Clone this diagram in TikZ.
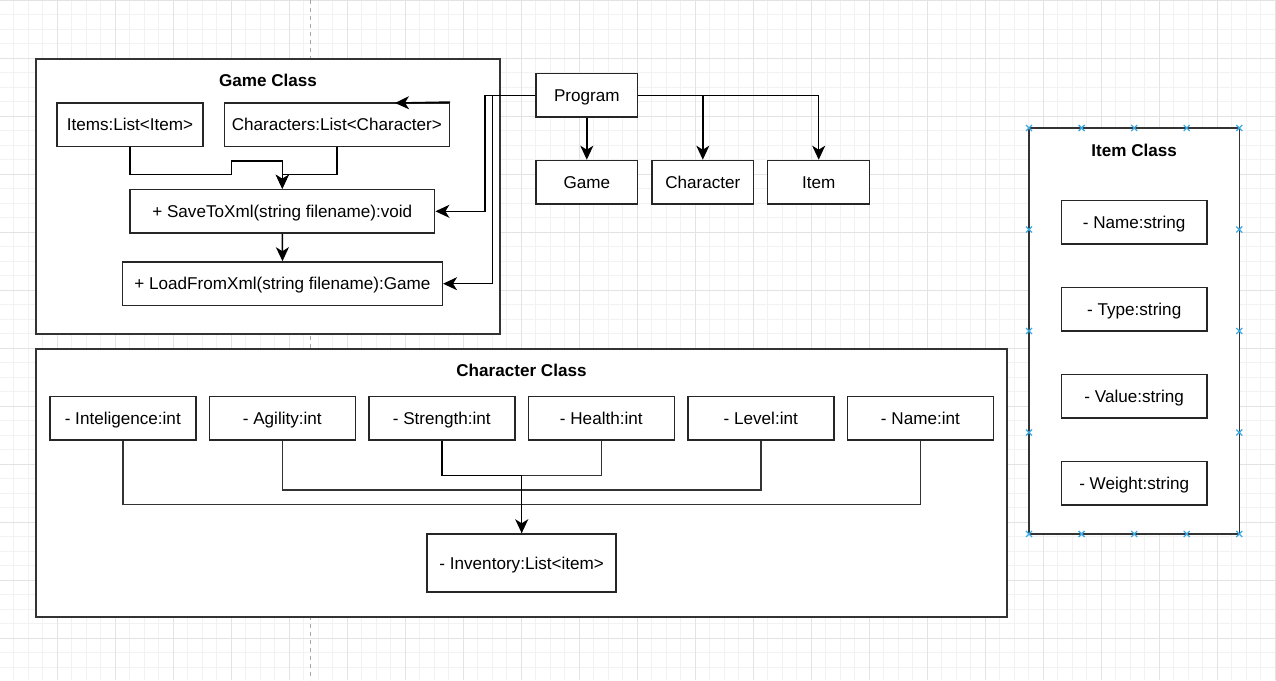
\documentclass[tikz,border=0pt]{standalone}
\usepackage{fontspec}
\setmainfont{Liberation Sans}
\usetikzlibrary{arrows.meta}
\definecolor{handle}{HTML}{3AA9E4}

\begin{document}
\begin{tikzpicture}[x=1pt, y=-1pt,
  font=\fontsize{17.1}{20}\selectfont,
  frame/.style={draw=black!80, line width=1.5, fill=white, inner sep=0},
  box/.style={draw=black!85, line width=1.5, fill=white, inner sep=0, minimum height=43.5,
    text height=12.2pt, text depth=0pt},
  title/.style={font=\fontsize{17.1}{20}\selectfont\bfseries, text height=12.2pt, text depth=0pt},
  link/.style={draw=black!80, line width=1.4},
  arrow/.style={-{Stealth[length=14pt, width=13pt, inset=4pt]}, draw=black, line width=1.4}]
  \useasboundingbox (0,0) rectangle (1276,680);

  % grid
  \foreach \i in {0,...,88} \draw[black!5, line width=0.8] ({\i*14.5-0.7},0) -- ++(0,680);
  \foreach \i in {0,...,47} \draw[black!5, line width=0.8] (0,{\i*14.5}) -- ++(1276,0);
  \foreach \i in {0,...,22} \draw[black!11, line width=0.8] ({\i*58-0.7},0) -- ++(0,680);
  \foreach \i in {0,...,11} \draw[black!11, line width=0.8] (0,{\i*58}) -- ++(1276,0);
  \draw[black!35, line width=0.8, dash pattern=on 4 off 4] (310.5,0) -- (310.5,680);

  % game class
  \node[frame, minimum width=464, minimum height=275] (gameclass) at (268,196.5) {};
  \node[title] (gametitle) at (268,80) {Game Class};
  \node[box, minimum width=146] (items) at (130,124.5) {Items:List<Item>};
  \node[box, minimum width=225] (chars) at (336.8,124.5) {Characters:List<Character>};
  \node[box, minimum width=304.7] (save) at (282.3,211.3) {+ SaveToXml(string filename):void};
  \node[box, minimum width=319.6] (load) at (282.5,283.7) {+ LoadFromXml(string filename):Game};
  \coordinate (charsin) at (395,103);

  \draw[arrow] (items.south) -- (130,174.3) -- (231.7,174.3) -- (231.7,161) -- (282.3,161) -- (save.north);
  \draw[arrow] (chars.south) -- (336.8,174.3) -- (282.3,174.3) -- (save.north);
  \draw[arrow] (save.south) -- (load.north);
  \draw[arrow] (chars.north east) -- (charsin);

  % program
  \node[box, minimum width=101.7] (program) at (586.8,95.2) {Program};
  \node[box, minimum width=101.7] (game) at (586.8,182.2) {Game};
  \node[box, minimum width=101.7] (character) at (702.8,182.2) {Character};
  \node[box, minimum width=102] (item) at (818.7,182.2) {Item};

  \draw[arrow] (program.south) -- (game.north);
  \draw[arrow] (program.east) -| (character.north);
  \draw[arrow] (program.east) -| (item.north);
  \draw[arrow] (program.west) -- (485,95.2) |- (save.east);
  \draw[arrow] (program.west) -- (492.5,95.2) |- (load.east);

  % character class
  \node[frame, minimum width=971, minimum height=268] (charclass) at (521.5,483) {};
  \node[title] (chartitle) at (521.5,370.3) {Character Class};
  \node[box, minimum width=146] (intel) at (122.8,418) {- Inteligence:int};
  \node[box, minimum width=146] (agility) at (282.3,418) {- Agility:int};
  \node[box, minimum width=146] (strength) at (441.8,418) {- Strength:int};
  \node[box, minimum width=146] (health) at (601.3,418) {- Health:int};
  \node[box, minimum width=146] (level) at (760.8,418) {- Level:int};
  \node[box, minimum width=146] (name) at (920.4,418) {- Name:int};
  \node[box, minimum width=189, minimum height=58] (inventory) at (521.7,563) {- Inventory:List<item>};

  \draw[link] (intel.south) -- (122.8,504.7) -| (inventory.north);
  \draw[link] (name.south) -- (920.4,504.7) -| (inventory.north);
  \draw[link] (agility.south) -- (282.3,490) -| (inventory.north);
  \draw[link] (level.south) -- (760.8,490) -| (inventory.north);
  \draw[link] (health.south) -- (601.3,475.7) -| (inventory.north);
  \draw[arrow] (strength.south) -- (441.8,475.7) -| (inventory.north);

  % item class
  \node[frame, minimum width=210.3, minimum height=406] (itemclass) at (1134.2,331) {};
  \node[title] (itemtitle) at (1134.2,150) {Item Class};
  \node[box, minimum width=145.7] (iname) at (1134.2,222) {- Name:string};
  \node[box, minimum width=145.7] (itype) at (1134.2,309.2) {- Type:string};
  \node[box, minimum width=145.7] (ivalue) at (1134.2,396.2) {- Value:string};
  \node[box, minimum width=145.7] (iweight) at (1134.2,483.2) {- Weight:string};

  % selection handles
  \foreach \x in {1029,1081.6,1134.2,1186.7,1239.3}
    \foreach \y in {128,534}
      \draw[handle, line width=1.3] (\x-3,\y-3) -- (\x+3,\y+3) (\x-3,\y+3) -- (\x+3,\y-3);
  \foreach \x in {1029,1239.3}
    \foreach \y in {229.5,331,432.5}
      \draw[handle, line width=1.3] (\x-3,\y-3) -- (\x+3,\y+3) (\x-3,\y+3) -- (\x+3,\y-3);

\end{tikzpicture}
\end{document}
